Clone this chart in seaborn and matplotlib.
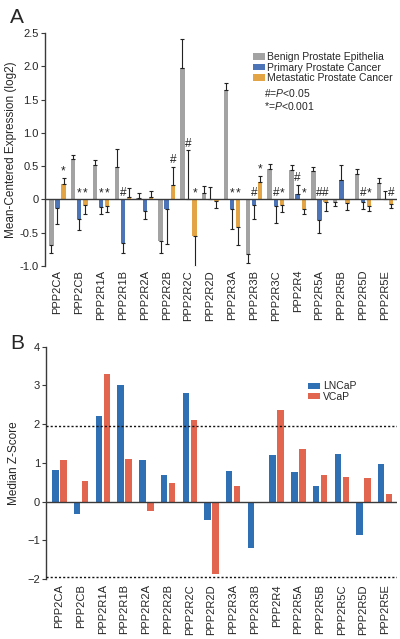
import numpy as np
import pandas as pd
import matplotlib
matplotlib.use("Agg")
import matplotlib.pyplot as plt
import seaborn as sns

# ----------------------------------------
# Panel A data: mean-centered expression (log2)
# ----------------------------------------
genes_a = ['PPP2CA', 'PPP2CB', 'PPP2R1A', 'PPP2R1B', 'PPP2R2A', 'PPP2R2B',
           'PPP2R2C', 'PPP2R2D', 'PPP2R3A', 'PPP2R3B', 'PPP2R3C', 'PPP2R4',
           'PPP2R5A', 'PPP2R5B', 'PPP2R5D', 'PPP2R5E']
groups_a = ['Benign Prostate Epithelia', 'Primary Prostate Cancer',
            'Metastatic Prostate Cancer']

benign = [-0.69, 0.60, 0.52, 0.48, 0.02, -0.62, 1.98, 0.10,
          1.65, -0.82, 0.45, 0.44, 0.43, -0.04, 0.38, 0.25]
benign_err = [0.11, 0.07, 0.07, 0.28, 0.075, 0.18, 0.44, 0.10,
              0.10, 0.13, 0.085, 0.075, 0.06, 0.065, 0.07, 0.075]
primary = [-0.125, -0.29, -0.115, -0.655, -0.175, -0.14, 0.0, 0.0,
           -0.15, -0.09, -0.105, 0.085, -0.315, 0.285, -0.04, 0.0]
primary_err = [0.25, 0.175, 0.11, 0.15, 0.125, 0.53, 0.74, 0.18,
               0.29, 0.20, 0.245, 0.135, 0.19, 0.235, 0.10, 0.125]
metastatic = [0.235, -0.08, -0.105, 0.03, 0.03, 0.22, -0.55, -0.03,
              -0.415, 0.26, -0.09, -0.14, -0.04, -0.055, -0.10, -0.065]
metastatic_err = [0.09, 0.135, 0.085, 0.145, 0.10, 0.27, 0.47, 0.10,
                  0.265, 0.09, 0.10, 0.085, 0.14, 0.10, 0.075, 0.06]

# significance marks (benign has none)
sig_primary = ['', '*', '*', '#', '', '', '#', '', '*', '#', '#', '#', '#', '', '#', '']
sig_metastatic = ['*', '*', '*', '', '', '#', '*', '', '*', '*', '*', '*', '#', '', '*', '#']

# ----------------------------------------
# Panel B data: median Z-score in cell lines
# ----------------------------------------
genes_b = ['PPP2CA', 'PPP2CB', 'PPP2R1A', 'PPP2R1B', 'PPP2R2A', 'PPP2R2B',
           'PPP2R2C', 'PPP2R2D', 'PPP2R3A', 'PPP2R3B', 'PPP2R4', 'PPP2R5A',
           'PPP2R5B', 'PPP2R5C', 'PPP2R5D', 'PPP2R5E']
lncap = [0.81, -0.32, 2.20, 3.02, 1.06, 0.68, 2.81, -0.47,
         0.78, -1.21, 1.21, 0.75, 0.40, 1.23, -0.87, 0.97]
vcap = [1.06, 0.52, 3.30, 1.09, -0.24, 0.47, 2.11, -1.86,
        0.41, 0.0, 2.37, 1.36, 0.69, 0.63, 0.60, 0.20]

# ----------------------------------------
# Style
# ----------------------------------------
sns.set_theme(style='white')
plt.rcParams['font.family'] = ['Liberation Sans', 'DejaVu Sans']
plt.rcParams['mathtext.fontset'] = 'custom'
plt.rcParams['mathtext.it'] = 'Liberation Sans:italic'
plt.rcParams['mathtext.rm'] = 'Liberation Sans'

colors_a = ['#a3a3a3', '#4d74b6', '#e2a444']
colors_b = ['#2f6fb4', '#e2654f']
axis_col = '#3a3a3a'

fig = plt.figure(figsize=(4, 6.39), dpi=100)
ax_a = fig.add_axes([0.1125, 0.584, 0.88, 0.364])
ax_b = fig.add_axes([0.116, 0.094, 0.877, 0.3635])

# ----------------------------------------
# Panel A
# ----------------------------------------
df_a = pd.DataFrame({
    'gene': genes_a * 3,
    'group': np.repeat(groups_a, len(genes_a)),
    'value': benign + primary + metastatic,
})
sns.barplot(data=df_a, x='gene', y='value', hue='group', order=genes_a,
            hue_order=groups_a, palette=colors_a, width=0.84, gap=0.28,
            errorbar=None, ax=ax_a, edgecolor='none', saturation=1)

errs = [benign_err, primary_err, metastatic_err]
vals = [benign, primary, metastatic]
marks = [[''] * len(genes_a), sig_primary, sig_metastatic]
for container, v, e, m in zip(ax_a.containers, vals, errs, marks):
    xs = [b.get_x() + b.get_width() / 2 for b in container]
    lo = [ee if vv < 0 else 0 for vv, ee in zip(v, e)]
    hi = [ee if vv >= 0 else 0 for vv, ee in zip(v, e)]
    ax_a.errorbar(xs, v, yerr=[lo, hi], fmt='none', ecolor='#222222',
                  elinewidth=0.8, capsize=1.6, capthick=0.8)
    for x, vv, ee, mm in zip(xs, v, e, m):
        if not mm:
            continue
        y = vv + ee + 0.01 if vv >= 0 else 0.0
        ax_a.text(x, y, mm, ha='center', va='bottom', fontsize=8.5,
                  color='#222222')

ax_a.axhline(0, color=axis_col, lw=1.0, zorder=3)
ax_a.set_xlim(-0.57, 15.55)
ax_a.set_ylim(-1.0, 2.5)
ax_a.set_yticks([-1.0, -0.5, 0, 0.5, 1.0, 1.5, 2.0, 2.5])
ax_a.set_yticklabels(['-1.0', '-0.5', '0', '0.5', '1.0', '1.5', '2.0', '2.5'])
ax_a.set_xlabel('')
ax_a.set_ylabel('Mean-Centered Expression (log2)', fontsize=8.5, labelpad=2)
ax_a.tick_params(axis='y', direction='out', length=3, width=0.8,
                 color=axis_col, labelsize=8, pad=1.5, left=True)
ax_a.tick_params(axis='x', length=0, labelsize=8, pad=3, rotation=90)
for s in ['top', 'right', 'bottom']:
    ax_a.spines[s].set_visible(False)
ax_a.spines['left'].set_color(axis_col)
ax_a.spines['left'].set_linewidth(1.0)

handles, labels = ax_a.get_legend_handles_labels()
ax_a.legend(handles, labels, loc='upper left', bbox_to_anchor=(0.59, 0.918),
            frameon=False, fontsize=7.5, handlelength=1.2, handleheight=0.6,
            handletextpad=0.2, labelspacing=0.05, borderaxespad=0,
            borderpad=0)
ax_a.text(0.622, 0.742, '#=$\\it{P}$<0.05', transform=ax_a.transAxes,
          fontsize=7.5, ha='left', va='center')
ax_a.text(0.622, 0.687, '*=$\\it{P}$<0.001', transform=ax_a.transAxes,
          fontsize=7.5, ha='left', va='center')

# ----------------------------------------
# Panel B
# ----------------------------------------
df_b = pd.DataFrame({
    'gene': genes_b * 2,
    'line': ['LNCaP'] * len(genes_b) + ['VCaP'] * len(genes_b),
    'value': lncap + vcap,
})
sns.barplot(data=df_b, x='gene', y='value', hue='line', order=genes_b,
            hue_order=['LNCaP', 'VCaP'], palette=colors_b, width=0.74,
            gap=0.2, errorbar=None, ax=ax_b, edgecolor='none', saturation=1)

ax_b.axhline(0, color=axis_col, lw=1.0, zorder=3)
ax_b.axhline(1.96, color='#111111', lw=1.0, ls=(0, (1.5, 1.5)), zorder=3)
ax_b.axhline(-1.96, color='#111111', lw=1.0, ls=(0, (1.5, 1.5)), zorder=3)
ax_b.set_xlim(-0.6, 15.55)
ax_b.set_ylim(-2, 4)
ax_b.set_yticks([-2, -1, 0, 1, 2, 3, 4])
ax_b.set_xlabel('')
ax_b.set_ylabel('Median Z-Score', fontsize=8.5, labelpad=5)
ax_b.tick_params(axis='y', direction='out', length=3, width=0.8,
                 color=axis_col, labelsize=8, pad=1.5, left=True)
ax_b.tick_params(axis='x', length=0, labelsize=8, pad=4, rotation=90)
for s in ['top', 'right', 'bottom']:
    ax_b.spines[s].set_visible(False)
ax_b.spines['left'].set_color(axis_col)
ax_b.spines['left'].set_linewidth(1.0)

handles, labels = ax_b.get_legend_handles_labels()
ax_b.legend(handles, labels, loc='upper left', bbox_to_anchor=(0.746, 0.85),
            frameon=False, fontsize=7.5, handlelength=1.15, handleheight=0.6,
            handletextpad=0.25, labelspacing=0.02, borderaxespad=0,
            borderpad=0)

# panel letters
fig.text(0.025, 0.972, 'A', fontsize=15, ha='left', va='center')
fig.text(0.025, 0.462, 'B', fontsize=15, ha='left', va='center')

fig.savefig('out.png', dpi=100, facecolor='white')
